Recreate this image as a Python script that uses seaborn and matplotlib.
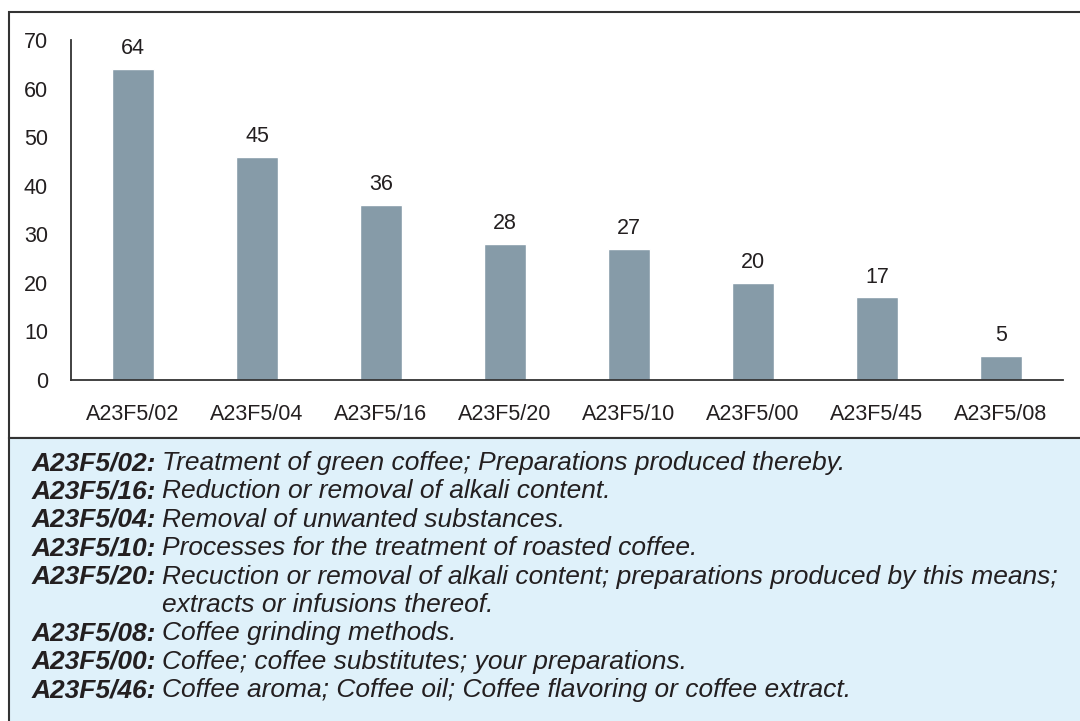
import matplotlib
matplotlib.use("Agg")
import matplotlib.pyplot as plt
import seaborn as sns
import pandas as pd
from matplotlib.patches import Rectangle

categories = ["A23F5/02", "A23F5/04", "A23F5/16", "A23F5/20",
              "A23F5/10", "A23F5/00", "A23F5/45", "A23F5/08"]
values = [64, 46, 36, 28, 27, 20, 17, 5]
value_labels = ["64", "45", "36", "28", "27", "20", "17", "5"]
y_ticks = [0, 10, 20, 30, 40, 50, 60, 70]

legend_codes = ["A23F5/02:", "A23F5/16:", "A23F5/04:", "A23F5/10:",
                "A23F5/20:", "", "A23F5/08:", "A23F5/00:", "A23F5/46:"]
legend_texts = [
    "Treatment of green coffee; Preparations produced thereby.",
    "Reduction or removal of alkali content.",
    "Removal of unwanted substances.",
    "Processes for the treatment of roasted coffee.",
    "Recuction or removal of alkali content; preparations produced by this means;",
    "extracts or infusions thereof.",
    "Coffee grinding methods.",
    "Coffee; coffee substitutes; your preparations.",
    "Coffee aroma; Coffee oil; Coffee flavoring or coffee extract.",
]

sns.set_style("white")
plt.rcParams["font.family"] = ["Liberation Sans", "DejaVu Sans"]

W, H = 1080, 721
fig = plt.figure(figsize=(W / 100, H / 100), dpi=100)
fig.patch.set_facecolor("white")

txt_color = "#231F20"
line_color = "#333333"

# outer frames
fig.patches.append(Rectangle((9 / W, 1 - 438 / H), (W + 20) / W, (438 - 12) / H,
                             transform=fig.transFigure, facecolor="white",
                             edgecolor=line_color, linewidth=1.5, zorder=-5))
fig.patches.append(Rectangle((9 / W, -0.1), (W + 20) / W, 0.1 + 1 - 438 / H,
                             transform=fig.transFigure, facecolor="#DFF1FA",
                             edgecolor=line_color, linewidth=1.5, zorder=-5))

ax = fig.add_axes([71 / W, 1 - 380 / H, 992 / W, 340 / H])
ax.set_zorder(2)
ax.set_facecolor("none")
df = pd.DataFrame({"cat": categories, "val": values})
sns.barplot(data=df, x="cat", y="val", color="#869BA8", saturation=1,
            width=0.345, ax=ax)
ax.set_ylim(0, 70)
ax.set_xlim(-0.5, len(categories) - 0.5)
ax.set_yticks(y_ticks)
ax.set_xlabel("")
ax.set_ylabel("")
for s in ["top", "right"]:
    ax.spines[s].set_visible(False)
for s in ["left", "bottom"]:
    ax.spines[s].set_color(line_color)
    ax.spines[s].set_linewidth(1.3)
ax.tick_params(axis="both", length=0, labelsize=15.5, colors=txt_color)
ax.tick_params(axis="y", pad=16.5)
ax.tick_params(axis="x", pad=17)

for i, (v, lab) in enumerate(zip(values, value_labels)):
    ax.annotate(lab, (i, v), xytext=(0, 7), textcoords="offset points",
                ha="center", va="bottom", fontsize=15.5, color=txt_color)

# legend text
y0 = 463
dy = 28.4
for k, (code, text) in enumerate(zip(legend_codes, legend_texts)):
    y = 1 - (y0 + k * dy) / H
    if code:
        fig.text(32 / W, y, code, fontsize=19, fontweight="bold",
                 fontstyle="italic", color=txt_color, va="center", ha="left")
    fig.text(162 / W, y, text, fontsize=19, fontstyle="italic",
             color=txt_color, va="center", ha="left")

fig.savefig("out.png", dpi=100)
